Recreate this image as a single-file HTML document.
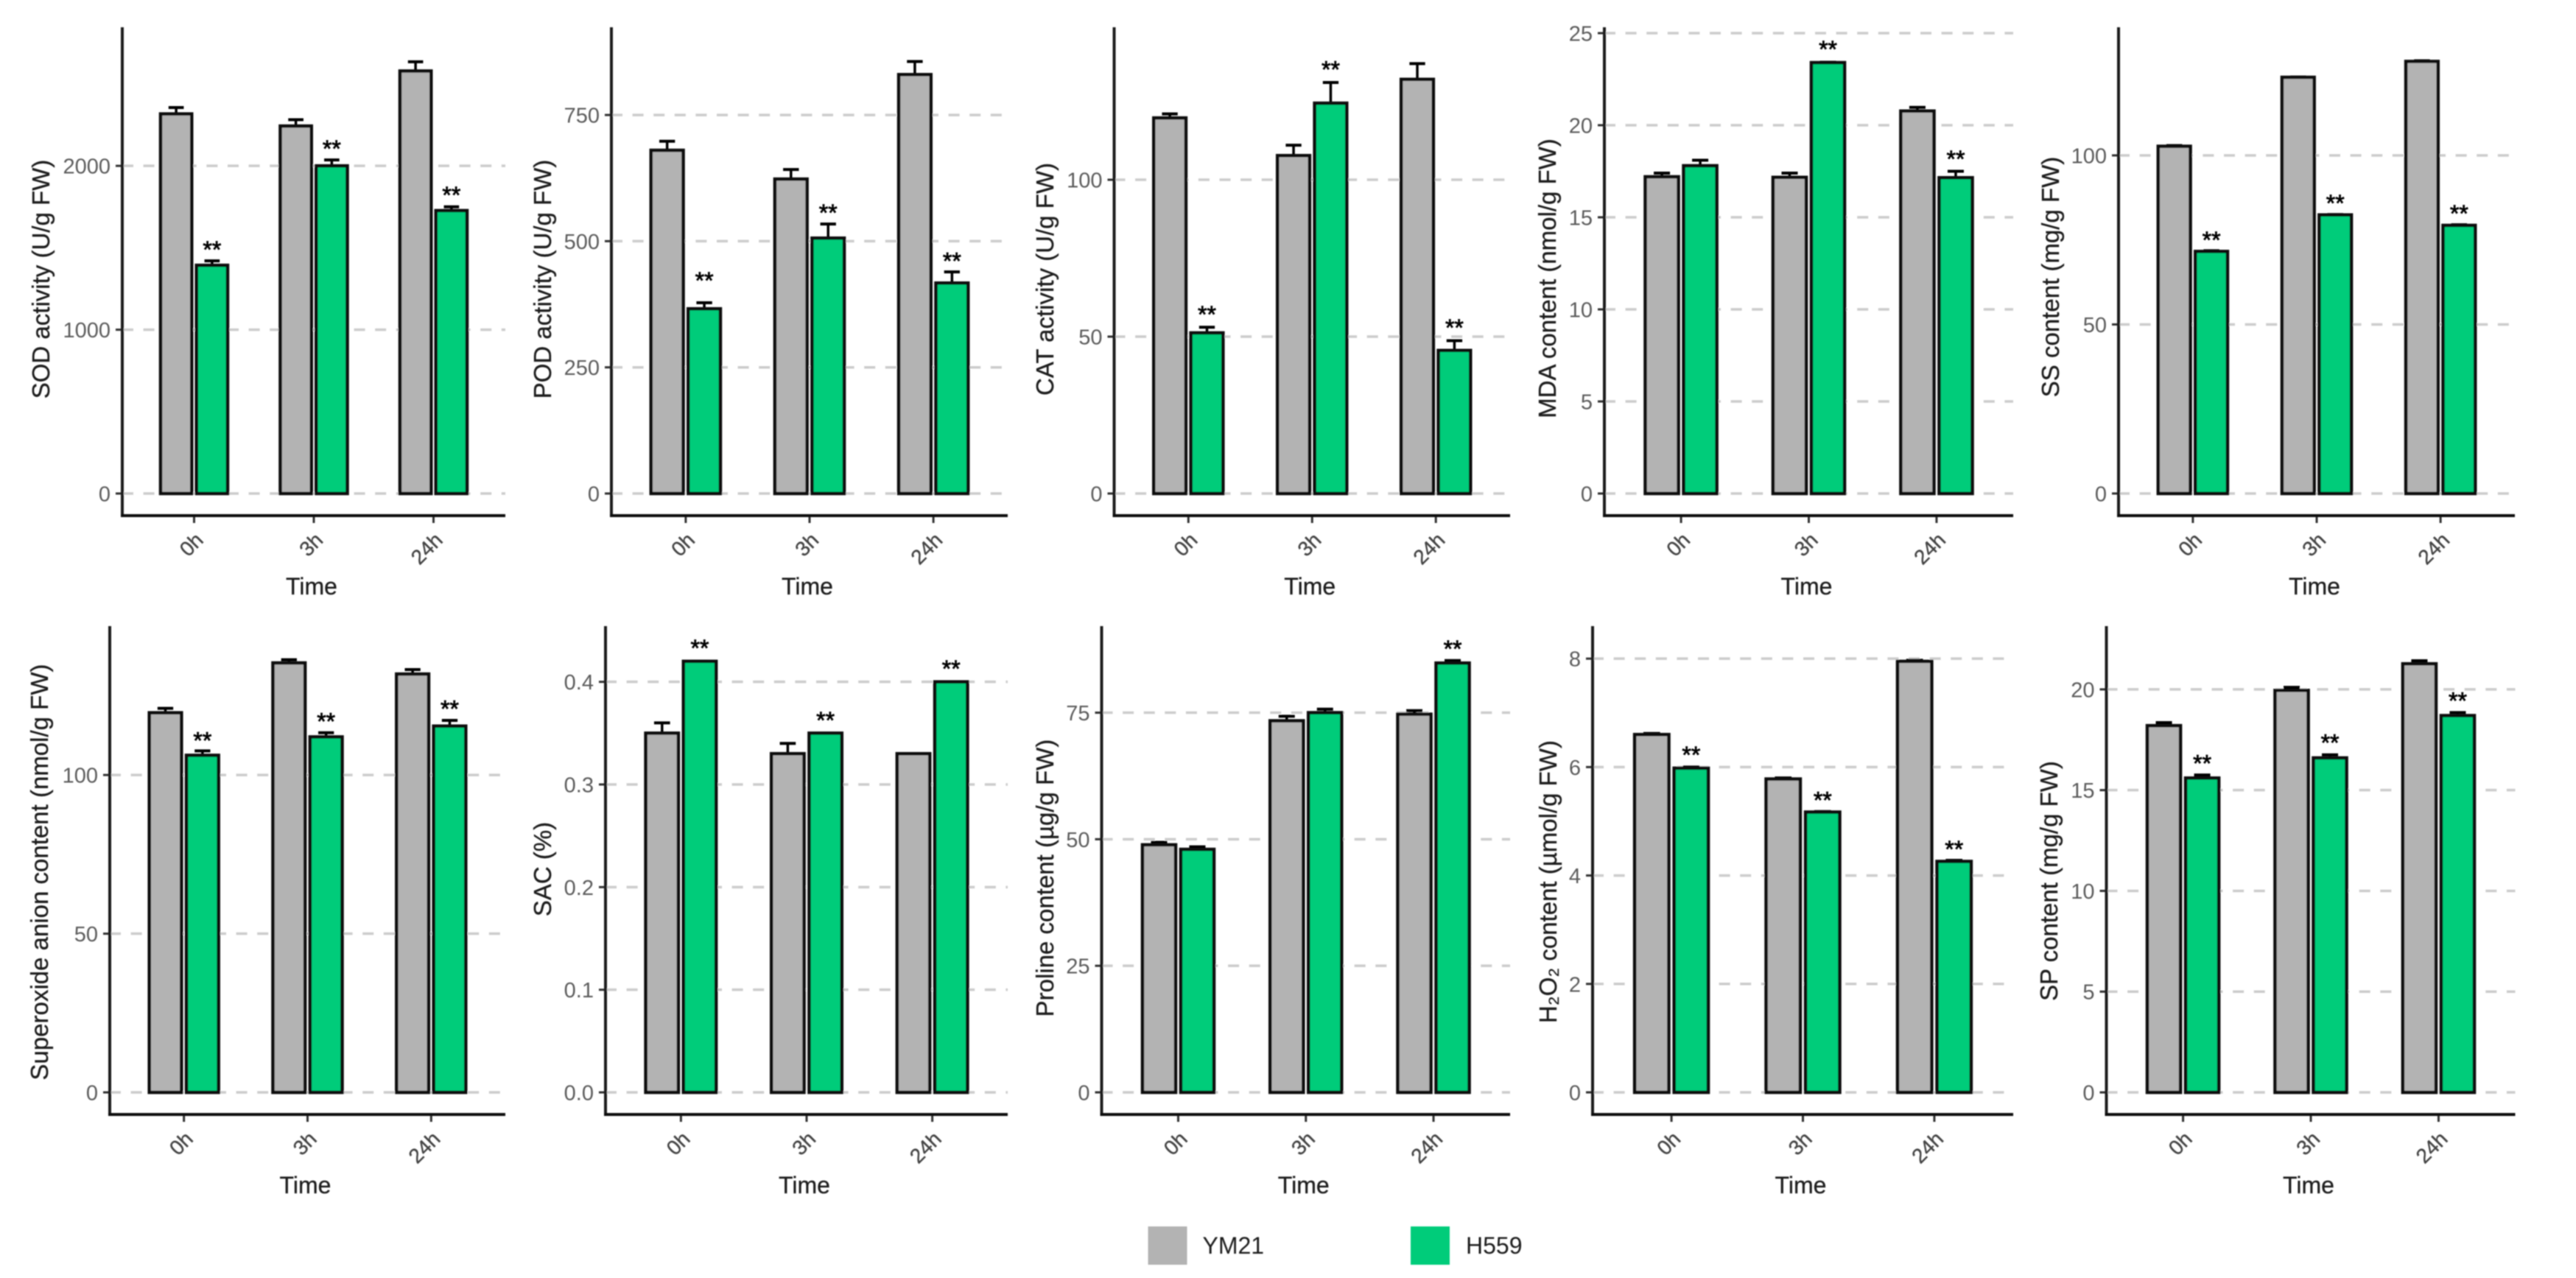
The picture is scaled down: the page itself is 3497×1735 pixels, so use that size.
<!DOCTYPE html>
<html lang="en">
<head>
<meta charset="utf-8">
<title>Physiological indices of YM21 and H559</title>
<style>
html,body{margin:0;padding:0;background:#fff;}
svg{display:block;}
text{font-family:"Liberation Sans","DejaVu Sans",sans-serif;}
</style>
</head>
<body>
<svg id="figure" xmlns="http://www.w3.org/2000/svg" width="3497" height="1735" viewBox="0 0 3497 1735">
<defs><filter id="soft" x="0" y="0" width="100%" height="100%" filterUnits="userSpaceOnUse" primitiveUnits="userSpaceOnUse"><feGaussianBlur stdDeviation="0.8"/></filter></defs>
<rect width="3497" height="1735" fill="#fff"/>
<g id="root" filter="url(#soft)"></g>
</svg>
<script>
const categories = ['0h', '3h', '24h'];
const seriesNames = ['YM21', 'H559'];

const sodTicks = [0, 1000, 2000];
const sodYM21 = [2317, 2243, 2579];
const sodYM21Upper = [2356, 2282, 2635];
const sodH559 = [1393, 2000, 1727];
const sodH559Upper = [1420, 2036, 1750];
const sodStars = [1520, 2136, 1853];

const podTicks = [0, 250, 500, 750];
const podYM21 = [680, 623, 830];
const podYM21Upper = [698, 642, 856];
const podH559 = [366, 506, 417];
const podH559Upper = [378, 534, 439];
const podStars = [432, 566, 471];

const catTicks = [0, 50, 100];
const catYM21 = [119.7, 107.7, 132];
const catYM21Upper = [121, 111, 137];
const catH559 = [51.2, 124.4, 45.6];
const catH559Upper = [53, 131, 48.7];
const catStars = [58.7, 136.7, 54.5];

const mdaTicks = [0, 5, 10, 15, 20, 25];
const mdaYM21 = [17.2, 17.17, 20.77];
const mdaYM21Upper = [17.4, 17.4, 20.97];
const mdaH559 = [17.8, 23.4, 17.15];
const mdaH559Upper = [18.1, 23.42, 17.5];
const mdaStars = [null, 24.4, 18.45];

const ssTicks = [0, 50, 100];
const ssYM21 = [102.7, 123.1, 127.8];
const ssYM21Upper = [102.9, 123.2, 128];
const ssH559 = [71.6, 82.4, 79.3];
const ssH559Upper = [71.8, 82.5, 79.5];
const ssStars = [76.5, 87.4, 84.3];

const superoxideTicks = [0, 50, 100];
const superoxideYM21 = [119.6, 135.3, 131.8];
const superoxideYM21Upper = [121, 136.3, 133.2];
const superoxideH559 = [106.2, 112, 115.4];
const superoxideH559Upper = [107.6, 113.3, 117.2];
const superoxideStars = [112.4, 118.5, 122.4];

const sacTicks = [0, 0.1, 0.2, 0.3, 0.4];
const sacTickLabels = ['0.0', '0.1', '0.2', '0.3', '0.4'];
const sacYM21 = [0.35, 0.33, 0.33];
const sacYM21Upper = [0.36, 0.34, 0.33];
const sacH559 = [0.42, 0.35, 0.40];
const sacH559Upper = [0.42, 0.35, 0.40];
const sacStars = [0.4378, 0.3676, 0.4178];

const prolineTicks = [0, 25, 50, 75];
const prolineYM21 = [48.9, 73.4, 74.7];
const prolineYM21Upper = [49.4, 74.3, 75.4];
const prolineH559 = [48, 75, 84.8];
const prolineH559Upper = [48.5, 75.7, 85.3];
const prolineStars = [null, null, 88.6];

const h2o2Ticks = [0, 2, 4, 6, 8];
const h2o2YM21 = [6.6, 5.78, 7.95];
const h2o2YM21Upper = [6.62, 5.8, 7.97];
const h2o2H559 = [5.98, 5.17, 4.26];
const h2o2H559Upper = [6.0, 5.18, 4.28];
const h2o2Stars = [6.32, 5.48, 4.58];

const spTicks = [0, 5, 10, 15, 20];
const spYM21 = [18.2, 19.95, 21.27];
const spYM21Upper = [18.35, 20.1, 21.42];
const spH559 = [15.6, 16.6, 18.7];
const spH559Upper = [15.75, 16.75, 18.85];
const spStars = [16.58, 17.6, 19.68];

const NS = 'http://www.w3.org/2000/svg';
const root = document.getElementById('root');

function make(parent, tag, attrs, content) {
  const el = document.createElementNS(NS, tag);
  Object.keys(attrs).forEach(function (k) { el.setAttribute(k, attrs[k]); });
  if (content !== undefined) el.textContent = content;
  parent.appendChild(el);
  return el;
}

const panels = [
  {id:'sod', title:'SOD activity (U/g FW)', left:166, right:686, top:37, bottom:700, yMin:-134.9, yMax:2846, ticks:sodTicks, ym:sodYM21, ymU:sodYM21Upper, h:sodH559, hU:sodH559Upper, stars:sodStars, tx:55, ty:379},
  {id:'pod', title:'POD activity (U/g FW)', left:830, right:1368, top:37, bottom:700, yMin:-43.8, yMax:923.8, ticks:podTicks, ym:podYM21, ymU:podYM21Upper, h:podH559, hU:podH559Upper, stars:podStars, tx:736, ty:379},
  {id:'cat', title:'CAT activity (U/g FW)', left:1512.5, right:2050, top:37, bottom:700, yMin:-7.04, yMax:148.6, ticks:catTicks, ym:catYM21, ymU:catYM21Upper, h:catH559, hU:catH559Upper, stars:catStars, tx:1418, ty:379},
  {id:'mda', title:'MDA content (nmol/g FW)', left:2178, right:2733, top:37, bottom:700, yMin:-1.2, yMax:25.32, ticks:mdaTicks, ym:mdaYM21, ymU:mdaYM21Upper, h:mdaH559, hU:mdaH559Upper, stars:mdaStars, tx:2100, ty:378},
  {id:'ss', title:'SS content (mg/g FW)', left:2876, right:3414, top:37, bottom:700, yMin:-6.54, yMax:137.9, ticks:ssTicks, ym:ssYM21, ymU:ssYM21Upper, h:ssH559, hU:ssH559Upper, stars:ssStars, tx:2783, ty:376},
  {id:'superoxide', title:'Superoxide anion content (nmol/g FW)', left:149, right:686, top:850, bottom:1513, yMin:-6.96, yMax:146.9, ticks:superoxideTicks, ym:superoxideYM21, ymU:superoxideYM21Upper, h:superoxideH559, hU:superoxideH559Upper, stars:superoxideStars, tx:53, ty:1184},
  {id:'sac', title:'SAC (%)', left:822, right:1368, top:850, bottom:1513, yMin:-0.02153, yMax:0.4543, ticks:sacTicks, labels:sacTickLabels, ym:sacYM21, ymU:sacYM21Upper, h:sacH559, hU:sacH559Upper, stars:sacStars, tx:736, ty:1180},
  {id:'proline', title:'Proline content (\u00b5g/g FW)', left:1495.5, right:2050, top:850, bottom:1513, yMin:-4.37, yMax:92.1, ticks:prolineTicks, ym:prolineYM21, ymU:prolineYM21Upper, h:prolineH559, hU:prolineH559Upper, stars:prolineStars, tx:1418, ty:1192},
  {id:'h2o2', title:'H\u2082O\u2082 content (\u00b5mol/g FW)', left:2162, right:2733, top:850, bottom:1513, yMin:-0.408, yMax:8.6, ticks:h2o2Ticks, ym:h2o2YM21, ymU:h2o2YM21Upper, h:h2o2H559, hU:h2o2H559Upper, stars:h2o2Stars, tx:2101, ty:1197},
  {id:'sp', title:'SP content (mg/g FW)', left:2859.5, right:3414.5, top:850, bottom:1513, yMin:-1.096, yMax:23.14, ticks:spTicks, ym:spYM21, ymU:spYM21Upper, h:spH559, hU:spH559Upper, stars:spStars, tx:2781, ty:1196}
];

const GRAY = '#b3b3b3';
const GREEN = '#00cc7a';
const INK = '#0c0c0c';

panels.forEach(function (p) {
  const g = make(root, 'g', {});
  
  

  const step = (p.right - p.left) / 3.2;
  const xScale = function (i) { return p.left + (0.6 + i) * step; };
  const yScale = function (v) { return p.bottom - (v - p.yMin) / (p.yMax - p.yMin) * (p.bottom - p.top); };
  const barW = 0.26 * step;
  const shift = 0.15 * step;
  const capW = 0.127 * step;

  p.ticks.forEach(function (t, i) {
    const line = make(g, 'line', {x1:p.left, x2:p.right, y1:yScale(t), y2:yScale(t), stroke:'#cccccc', 'stroke-width':3.5, 'stroke-dasharray':'15 13.6'});
    
    
    const tickMark = make(g, 'line', {x1:p.left - 9, x2:p.left, y1:yScale(t), y2:yScale(t), stroke:'#333', 'stroke-width':3});
    
    
    const label = make(g, 'text', {x:p.left - 16, y:yScale(t) + 10.5, 'text-anchor':'end', 'font-size':29, fill:'#5c5c5c'}, p.labels ? p.labels[i] : String(t));
    
    
  });

  categories.forEach(function (c, i) {
    const cx = xScale(i);
    [[p.ym, p.ymU, GRAY, -shift, 0], [p.h, p.hU, GREEN, shift, 1]].forEach(function (s) {
      const bx = cx + s[3];
      const stem = make(g, 'line', {x1:bx, x2:bx, y1:yScale(s[0][i]), y2:yScale(s[1][i]), stroke:'#000', 'stroke-width':3.5});
      
      
      const cap = make(g, 'line', {x1:bx - capW / 2, x2:bx + capW / 2, y1:yScale(s[1][i]), y2:yScale(s[1][i]), stroke:'#000', 'stroke-width':4});
      
      
      const bar = make(g, 'rect', {x:bx - barW / 2, y:yScale(s[0][i]), width:barW, height:yScale(0) - yScale(s[0][i]), fill:s[2], stroke:INK, 'stroke-width':4.5});
      
      
    });
    if (p.stars[i] !== null) {
      const star = make(g, 'text', {x:cx + shift, y:yScale(p.stars[i]) + 18, 'text-anchor':'middle', 'font-size':32, fill:'#000', stroke:'#000', 'stroke-width':0.8}, '**');
      
      
    }
    const xTick = make(g, 'line', {x1:cx, x2:cx, y1:p.bottom, y2:p.bottom + 10, stroke:'#333', 'stroke-width':3});
    
    
    const lx = cx + 14;
    const ly = p.bottom + 35;
    const xLabel = make(g, 'text', {x:lx, y:ly, 'text-anchor':'end', 'font-size':28, fill:'#444', stroke:'#444', 'stroke-width':0.4, transform:'rotate(-45 ' + lx + ' ' + ly + ')'}, c);
    
    
  });

  const yAxis = make(g, 'line', {x1:p.left, x2:p.left, y1:p.top, y2:p.bottom + 2, stroke:'#1a1a1a', 'stroke-width':4});
  
  
  const xAxis = make(g, 'line', {x1:p.left - 2, x2:p.right, y1:p.bottom, y2:p.bottom, stroke:'#0c0c0c', 'stroke-width':4});
  
  

  const xTitle = make(g, 'text', {x:xScale(1) - 3, y:p.bottom + 107, 'text-anchor':'middle', 'font-size':32, fill:'#1a1a1a', stroke:'#1a1a1a', 'stroke-width':0.3}, 'Time');
  
  
  const yTitle = make(g, 'text', {x:0, y:0, 'text-anchor':'middle', 'font-size':33, fill:'#1a1a1a', stroke:'#1a1a1a', 'stroke-width':0.3, transform:'translate(' + (p.tx + 12) + ' ' + p.ty + ') rotate(-90)'}, p.title);
  
  
});

const legend = make(root, 'g', {});


[[1558.5, GRAY, 1632.5, 0], [1915, GREEN, 1990, 1]].forEach(function (e) {
  const swatch = make(legend, 'rect', {x:e[0], y:1665, width:53, height:52, fill:e[1]});
  
  
  const name = make(legend, 'text', {x:e[2], y:1702, 'font-size':32, fill:'#1a1a1a'}, seriesNames[e[3]]);
  
  
});
</script>
</body>
</html>
